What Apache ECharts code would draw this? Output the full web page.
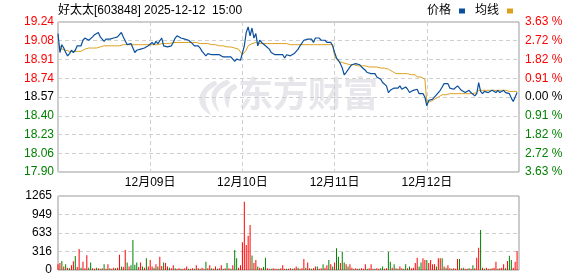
<!DOCTYPE html>
<html><head><meta charset="utf-8">
<script src="https://cdn.jsdelivr.net/npm/echarts@6/dist/echarts.min.js"></script>
<style>html,body{margin:0;padding:0;background:#fff}#c{width:578px;height:276px}</style>
</head><body><div id="c"></div>
<script>
// ---- data ----
const titleText = '好太太[603848] 2025-12-12  15:00';
const dayLabels = ['12月09日','12月10日','12月11日','12月12日'];
const leftLabels = ['17.90','18.06','18.23','18.40','18.57','18.74','18.91','19.08','19.24'];
const rightLabels = ['3.63 %','2.72 %','1.82 %','0.91 %','0.00 %','0.91 %','1.82 %','2.72 %','3.63 %'];
const volLabels = ['0','316','633','949','1265'];

const priceDay1 = [19.14,18.97,19.04,19.01,18.97,18.94,18.96,18.99,18.97,18.99,19.03,19.02,19.03,19.08,19.10,19.10,19.08,19.09,19.11,19.13,19.14,19.15,19.11,19.10,19.07,19.09,19.10,19.09,19.10,19.10,19.10,19.11,19.12,19.15,19.11,19.12,19.04,19.03,19.05,19.01,18.97,18.99,18.98,19.00,19.01,19.01,19.02,19.03];
const priceDay2 = [19.03,19.06,19.04,19.07,19.05,19.06,19.10,19.03,19.03,19.02,19.03,19.03,19.06,19.10,19.12,19.11,19.10,19.10,19.09,19.10,19.08,19.08,19.05,19.03,19.02,19.03,19.01,18.98,18.97,18.94,18.96,18.97,18.95,18.96,18.95,18.95,18.95,18.95,18.93,18.94,18.93,18.94,18.93,18.92,18.89,18.91,18.92,18.90];
const priceDay3 = [18.90,19.03,19.15,19.20,19.12,19.19,19.10,19.14,19.03,19.08,19.06,19.05,19.03,19.03,19.00,18.97,18.98,18.95,18.95,18.95,18.94,18.95,18.92,18.95,18.95,18.94,18.93,18.96,18.98,19.00,19.03,19.03,19.08,19.08,19.09,19.08,19.09,19.06,19.10,19.10,19.10,19.08,19.09,19.08,19.06,19.05,19.06,19.03];
const priceDay4 = [18.97,18.92,18.90,18.87,18.83,18.77,18.79,18.80,18.84,18.86,18.86,18.87,18.86,18.86,18.84,18.83,18.81,18.79,18.80,18.78,18.77,18.78,18.75,18.74,18.73,18.70,18.70,18.67,18.61,18.63,18.64,18.65,18.66,18.65,18.67,18.64,18.65,18.66,18.64,18.61,18.60,18.63,18.62,18.64,18.60,18.59,18.60,18.57];
const priceDay5 = [18.49,18.54,18.53,18.55,18.54,18.59,18.60,18.63,18.66,18.69,18.70,18.69,18.65,18.66,18.64,18.65,18.67,18.66,18.63,18.62,18.61,18.62,18.63,18.61,18.62,18.58,18.60,18.70,18.62,18.60,18.62,18.63,18.61,18.62,18.63,18.62,18.61,18.63,18.61,18.62,18.63,18.61,18.60,18.60,18.56,18.53,18.54,18.61];

const avgDay1 = [19.05,19.03,19.00,18.99,18.99,18.99,18.98,18.98,18.98,18.98,18.98,18.98,18.98,18.99,19.00,19.00,19.01,19.01,19.01,19.01,19.01,19.02,19.02,19.02,19.03,19.03,19.03,19.03,19.03,19.03,19.03,19.03,19.03,19.03,19.04,19.04,19.04,19.04,19.04,19.04,19.04,19.04,19.04,19.04,19.04,19.04,19.04,19.04];
const avgDay2 = [19.04,19.04,19.04,19.04,19.04,19.04,19.05,19.05,19.05,19.05,19.05,19.06,19.06,19.06,19.06,19.06,19.06,19.06,19.06,19.06,19.06,19.06,19.06,19.06,19.06,19.06,19.05,19.05,19.05,19.05,19.05,19.04,19.04,19.04,19.04,19.04,19.03,19.03,19.03,19.03,19.02,19.02,19.02,19.01,19.01,19.01,19.00,19.00];
const avgDay3 = [18.95,18.96,18.99,19.03,19.04,19.05,19.06,19.06,19.05,19.05,19.05,19.05,19.05,19.05,19.05,19.05,19.05,19.05,19.05,19.05,19.05,19.05,19.05,19.05,19.05,19.04,19.04,19.04,19.04,19.04,19.04,19.04,19.04,19.04,19.04,19.04,19.04,19.04,19.04,19.04,19.04,19.04,19.04,19.04,19.04,19.04,19.04,19.04];
const avgDay4 = [18.94,18.91,18.89,18.88,18.88,18.87,18.87,18.86,18.86,18.86,18.86,18.85,18.85,18.85,18.85,18.85,18.85,18.84,18.84,18.84,18.84,18.84,18.84,18.84,18.83,18.83,18.83,18.83,18.82,18.81,18.80,18.79,18.78,18.78,18.78,18.78,18.78,18.78,18.78,18.78,18.77,18.77,18.77,18.75,18.75,18.75,18.75,18.73];
const avgDay5 = [18.52,18.52,18.53,18.54,18.55,18.56,18.57,18.58,18.59,18.59,18.59,18.59,18.60,18.60,18.60,18.60,18.60,18.60,18.60,18.60,18.60,18.60,18.60,18.60,18.60,18.60,18.61,18.63,18.63,18.63,18.63,18.63,18.63,18.63,18.63,18.63,18.63,18.63,18.63,18.63,18.63,18.63,18.62,18.62,18.62,18.62,18.62,18.62];

const volDay1 = [100,120,154,60,98,40,30,80,150,240,50,359,40,140,30,251,40,130,30,20,40,30,20,30,100,20,100,30,20,40,30,40,260,60,50,342,130,60,80,513,90,130,50,130,60,40,200,60];
const volDay2 = [170,60,40,100,60,228,70,130,120,60,40,30,80,30,20,30,20,20,30,60,20,20,30,20,80,30,20,40,20,140,30,80,30,20,60,20,30,80,20,30,120,30,20,80,342,200,40,80];
const volDay3 = [473,1168,428,587,770,250,120,171,60,40,30,50,211,30,20,20,30,20,20,20,30,80,20,20,20,30,20,30,60,40,20,30,188,40,130,30,20,30,60,60,20,30,100,40,80,170,100,60];
const volDay4 = [130,371,228,120,313,130,100,60,100,40,20,30,20,20,30,20,100,20,30,100,20,20,30,20,30,60,20,30,313,140,40,100,30,20,60,30,20,100,30,60,30,40,120,211,60,130,200,170];
const volDay5 = [170,120,171,100,100,60,200,200,200,60,40,80,30,20,30,20,188,188,30,40,20,20,30,20,80,30,211,382,684,40,20,40,20,20,30,40,140,20,30,40,100,30,154,245,171,40,140,325];
// r = up (red), g = down (green)
const volDirDay1 = 'rrgrg rgrrg rrgrr rggrr grgrg rrgrr grrgr rgrgg ggrrg rgr';
const volDirDay2 = 'rrgrg rrgrr grrgr rgrrr grrgr rgrrg rrgrr grrgr grgrg grr';
const volDirDay3 = 'rrrrr grrgr rggrr grrrg rrrgr rgrrg rrrgr rgrrg rrgrr grg';
const volDirDay4 = 'rggrg grgrr grrgr rrgrr rgrrg grrgg rgrgr rggrg rrrrg grr';
const volDirDay5 = 'grrrr grrgr grrgr rrgrg rrgrg rrrgr grrgr rrgrr rgrgg rrr';

// ---- build ----
const price = [].concat(priceDay1, priceDay2, priceDay3, priceDay4, priceDay5);
const avg = [].concat(avgDay1, avgDay2, avgDay3, avgDay4, avgDay5);
const vol = [].concat(volDay1, volDay2, volDay3, volDay4, volDay5);
const volDir = (volDirDay1 + volDirDay2 + volDirDay3 + volDirDay4 + volDirDay5).replace(/ /g, '');

const PMIN = 17.896, PMAX = 19.244, PSTEP = 0.1685;
const RMIN = -3.63, RMAX = 3.63, RSTEP = 0.9075;
const VMAX = 1265, VSTEP = 316.25;
const PER_DAY = 48, DAYS = 5;

const RED = '#ff0000', GREEN = '#008000', BLACK = '#000000';
const FONT = "'Liberation Sans','Noto Sans CJK SC',sans-serif";
const WM = '#e7e7eb';

const chart = echarts.init(document.getElementById('c'), null, {renderer: 'canvas'});
const gridLine = {show: true, lineStyle: {color: '#cfcfcf', type: [4, 3], width: 1}};

chart.setOption({
  animation: false,
  textStyle: {fontFamily: FONT},
  title: {text: titleText, left: 53, top: 0, textStyle: {fontSize: 12, fontWeight: 'normal', color: BLACK, fontFamily: FONT}},
  legend: {
    data: ['价格', '均线'], right: 60, top: 0, align: 'right', icon: 'rect',
    itemWidth: 6, itemHeight: 5, itemGap: 10,
    textStyle: {fontSize: 12, color: BLACK, fontFamily: FONT, padding: [0, 3, 0, 0]}
  },
  graphic: [
    {type: 'polygon', z: -10, silent: true,
     shape: {points: [[214,81],[202,91],[200,104],[211,115],[206,104],[207,93],[217,84]], smooth: 0.4}, style: {fill: WM}},
    {type: 'polygon', z: -10, silent: true,
     shape: {points: [[226,80],[214,89],[212,101],[219,112],[216,101],[219,91],[230,83]], smooth: 0.4}, style: {fill: WM}},
    {type: 'polygon', z: -10, silent: true,
     shape: {points: [[234,84],[225,92],[225,101],[228,108],[230,98],[232,92],[237,88]], smooth: 0.4}, style: {fill: WM}},
    {type: 'text', z: -10, silent: true, x: 238, y: 76,
     style: {text: '东方财富', font: "bold 35px 'Noto Sans CJK SC'", fill: WM}}
  ],
  grid: [
    {left: 58, right: 59, top: 22, height: 150, show: true, borderColor: '#999', borderWidth: 1},
    {left: 58, right: 59, top: 196, height: 74, show: true, borderColor: '#999', borderWidth: 1}
  ],
  xAxis: [
    {type: 'value', gridIndex: 0, min: 0, max: PER_DAY * DAYS, interval: PER_DAY,
     axisLine: {show: false}, axisTick: {show: false}, splitLine: gridLine,
     axisLabel: {show: true, margin: 5, fontSize: 12, color: BLACK,
       formatter: v => { const k = Math.round(v / PER_DAY) - 1; return (k >= 0 && k < dayLabels.length) ? dayLabels[k] : ''; }}},
    {type: 'value', gridIndex: 1, min: 0, max: PER_DAY * DAYS, interval: PER_DAY,
     axisLine: {show: false}, axisTick: {show: false}, splitLine: {show: false}, axisLabel: {show: false}}
  ],
  yAxis: [
    {type: 'value', gridIndex: 0, position: 'left', min: PMIN, max: PMAX, interval: PSTEP,
     axisLine: {show: false}, axisTick: {show: false}, splitLine: gridLine,
     axisLabel: {margin: 4, fontSize: 12,
       formatter: v => leftLabels[Math.round((v - PMIN) / PSTEP)] || '',
       color: v => { const k = Math.round((v - PMIN) / PSTEP); return k < 4 ? GREEN : (k === 4 ? BLACK : RED); }}},
    {type: 'value', gridIndex: 0, position: 'right', min: RMIN, max: RMAX, interval: RSTEP,
     axisLine: {show: false}, axisTick: {show: false}, splitLine: {show: false},
     axisLabel: {margin: 6, fontSize: 12,
       formatter: v => rightLabels[Math.round((v - RMIN) / RSTEP)] || '',
       color: v => { const k = Math.round((v - RMIN) / RSTEP); return k < 4 ? GREEN : (k === 4 ? BLACK : RED); }}},
    {type: 'value', gridIndex: 1, position: 'left', min: 0, max: VMAX, interval: VSTEP,
     axisLine: {show: false}, axisTick: {show: false}, splitLine: gridLine,
     axisLabel: {margin: 6, fontSize: 12, color: BLACK,
       formatter: v => volLabels[Math.round(v / VSTEP)] || ''}}
  ],
  series: [
    {name: '价格', type: 'line', xAxisIndex: 0, yAxisIndex: 0, showSymbol: false, z: 4,
     lineStyle: {color: '#0a4f9e', width: 1.2}, itemStyle: {color: '#0a4f9e'},
     data: price.map((p, i) => [i, p])},
    {name: '均线', type: 'line', xAxisIndex: 0, yAxisIndex: 0, showSymbol: false, z: 3,
     lineStyle: {color: '#dca01e', width: 1}, itemStyle: {color: '#dca01e'},
     data: avg.map((p, i) => [i, p])},
    {name: 'vol', type: 'bar', xAxisIndex: 1, yAxisIndex: 2, barWidth: 1,
     data: vol.map((v, i) => ({value: [i, v], itemStyle: {color: volDir[i] === 'g' ? GREEN : RED}}))}
  ]
});
</script>
</body></html>
